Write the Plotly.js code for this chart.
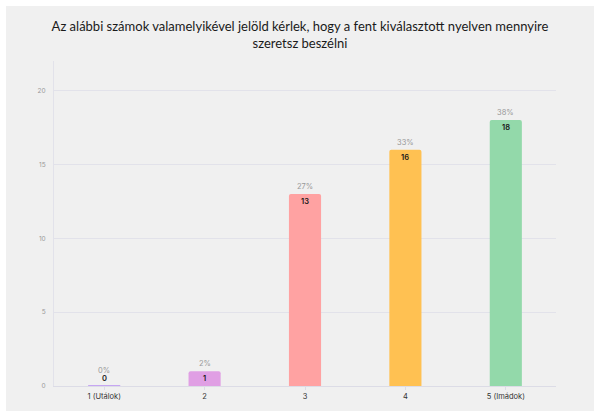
<!DOCTYPE html>
<html><head><meta charset="utf-8">
<script src="https://cdn.plot.ly/plotly-3.0.1.min.js"></script>
<style>html,body{margin:0;padding:0;background:#fff;}#c{position:absolute;left:6px;top:6px;width:588px;height:405px;}</style>
</head><body><div id="c"></div>
<script>
const categories = ["1 (Utálok)", "2", "3", "4", "5 (Imádok)"];
const counts = [0, 1, 13, 16, 18];
const percents = ["0%", "2%", "27%", "33%", "38%"];
const colors = ["#c6a6f2", "#e09fe4", "#ffa2a2", "#ffc152", "#93d9aa"];

const font = "Inter, 'Noto Sans', sans-serif";
const annotations = [];
categories.forEach((c, i) => {
  const v = counts[i];
  const small = v < 1;
  annotations.push({x: i, y: v, xref: 'x', yref: 'y', text: String(v), showarrow: false,
    yanchor: small ? 'bottom' : 'top', yshift: small ? 1 : -1,
    font: {family: font, size: 7.5, color: '#1a1a1a', weight: 600}});
  annotations.push({x: i, y: v, xref: 'x', yref: 'y', text: percents[i], showarrow: false,
    yanchor: 'bottom', yshift: small ? 9 : 1,
    font: {family: font, size: 7.5, color: '#999'}});
});

const data = [{
  type: 'bar', x: categories, y: counts,
  marker: {color: colors, line: {color: colors, width: counts.map(v => v === 0 ? 2 : 0)}},
  width: 0.32, hoverinfo: 'none'
}];
const layout = {
  width: 588, height: 405,
  paper_bgcolor: '#f0f0f0', plot_bgcolor: '#f0f0f0',
  margin: {l: 48, r: 38, t: 55, b: 25},
  title: {text: 'Az alábbi számok valamelyikével jelöld kérlek, hogy a fent kiválasztott nyelven mennyire<br>szeretsz beszélni',
    font: {family: "Lato, 'Noto Sans', sans-serif", size: 13, color: '#1a1a1a'}, x: 0.5, xanchor: 'center', y: 0.938, yref: 'container', yanchor: 'middle'},
  barcornerradius: 2,
  showlegend: false,
  xaxis: {type: 'category', showgrid: false, showline: true, linecolor: '#dcdce6', linewidth: 1,
    ticks: 'outside', ticklen: 3, tickcolor: '#dcdce6', tickfont: {family: font, size: 7.5, color: '#333'}, fixedrange: true},
  yaxis: {range: [0, 22], tickvals: [0, 5, 10, 15, 20], showgrid: true, gridcolor: '#e2e2ea', zeroline: false,
    showline: true, linecolor: '#e2e2ea', tickfont: {family: font, size: 6.5, color: '#999'}, ticks: '', ticklabelstandoff: 6},
  annotations: annotations
};
Plotly.newPlot('c', data, layout, {displayModeBar: false, staticPlot: true});
</script></body></html>
